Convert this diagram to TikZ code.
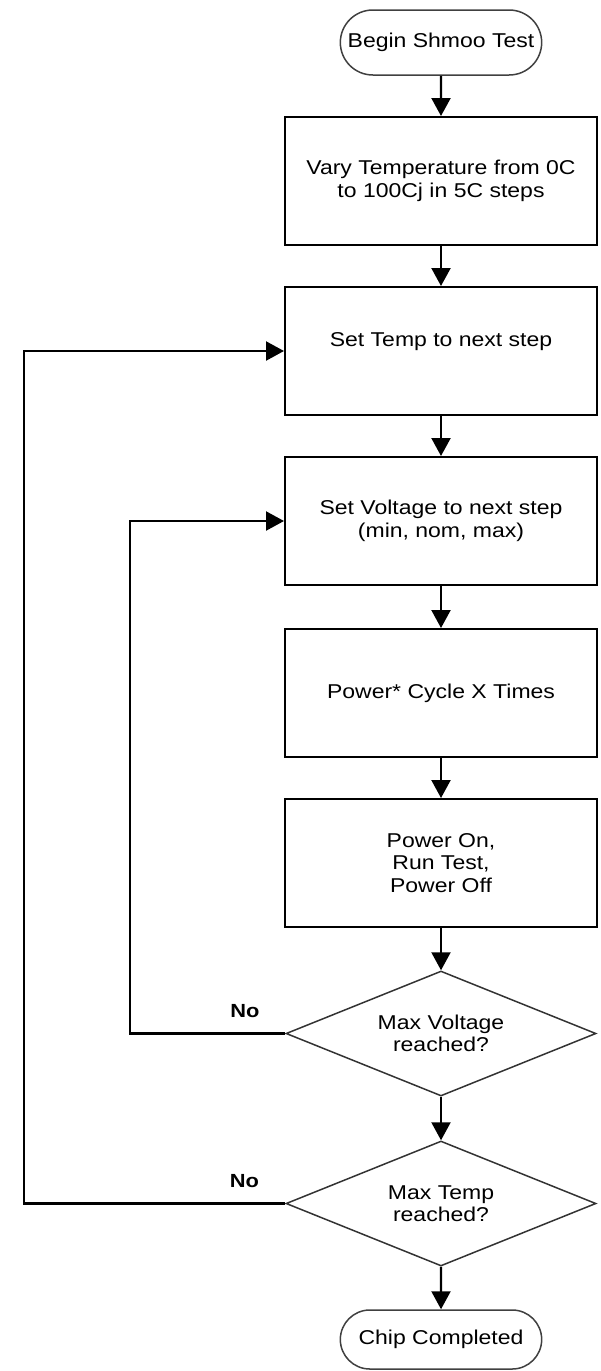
\documentclass[tikz,border=0pt]{standalone}
\usepackage{fontspec}
\setmainfont{Liberation Sans}[FakeStretch=1.15]
\usetikzlibrary{arrows.meta, positioning, shapes.geometric, shapes.misc}

\begin{document}
\begin{tikzpicture}[
  x=1pt, y=-1pt,
  txt/.style={align=center, font=\fontsize{20}{22.5}\selectfont},
  stepbox/.style={txt, draw, line width=2pt, minimum width=312pt,
    minimum height=128pt},
  terminal/.style={txt, draw=black!75, line width=1.5pt, rounded rectangle,
    minimum width=208pt, minimum height=#1},
  decision/.style={txt, draw=black!80, line width=1.5pt, diamond, aspect=2.48,
    minimum width=310pt, minimum height=125pt, inner sep=0pt},
  arrow/.style={-{Triangle[width=19pt,length=18pt]}, line width=2.2pt},
  nolabel/.style={font=\bfseries\fontsize{19}{21}\selectfont, above=11pt},
]
\useasboundingbox (0,0) rectangle (600,1371);

\node[terminal=65pt] (start) at (441,42.5) {Begin Shmoo Test};
\node[stepbox] (tvary) at (441,181) {Vary Temperature from 0C\\to 100Cj in 5C steps};
\node[stepbox] (tset) at (441,351) {Set Temp to next step\\\mbox{}};
\node[stepbox] (vset) at (441,521) {Set Voltage to next step\\(min, nom, max)};
\node[stepbox] (pcycle) at (441,693) {Power* Cycle X Times};
\node[stepbox] (runtest) at (441,863) {Power On,\\Run Test,\\Power Off};
\node[decision] (vmax) at (441,1033.5) {Max Voltage\\reached?};
\node[decision] (tmax) at (441,1203.5) {Max Temp\\reached?};
\node[terminal=59pt] (stop) at (441,1339.5) {Chip Completed};

\coordinate (vloop) at (130,0);
\coordinate (tloop) at (24,0);

\draw[arrow] (start) -- (tvary);
\draw[arrow] (tvary) -- (tset);
\draw[arrow] (tset) -- (vset);
\draw[arrow] (vset) -- (pcycle);
\draw[arrow] (pcycle) -- (runtest);
\draw[arrow] (runtest) -- (vmax);
\draw[arrow] (vmax) -- (tmax);
\draw[arrow] (tmax) -- (stop);

% loops back for the next step
\draw[arrow] (vmax.west) -- node[nolabel, pos=0.26] {No} (vmax.west -| vloop)
  |- (vset.west);
\draw[arrow] (tmax.west) -- node[nolabel, pos=0.156] {No} (tmax.west -| tloop)
  |- (tset.west);
\end{tikzpicture}
\end{document}
